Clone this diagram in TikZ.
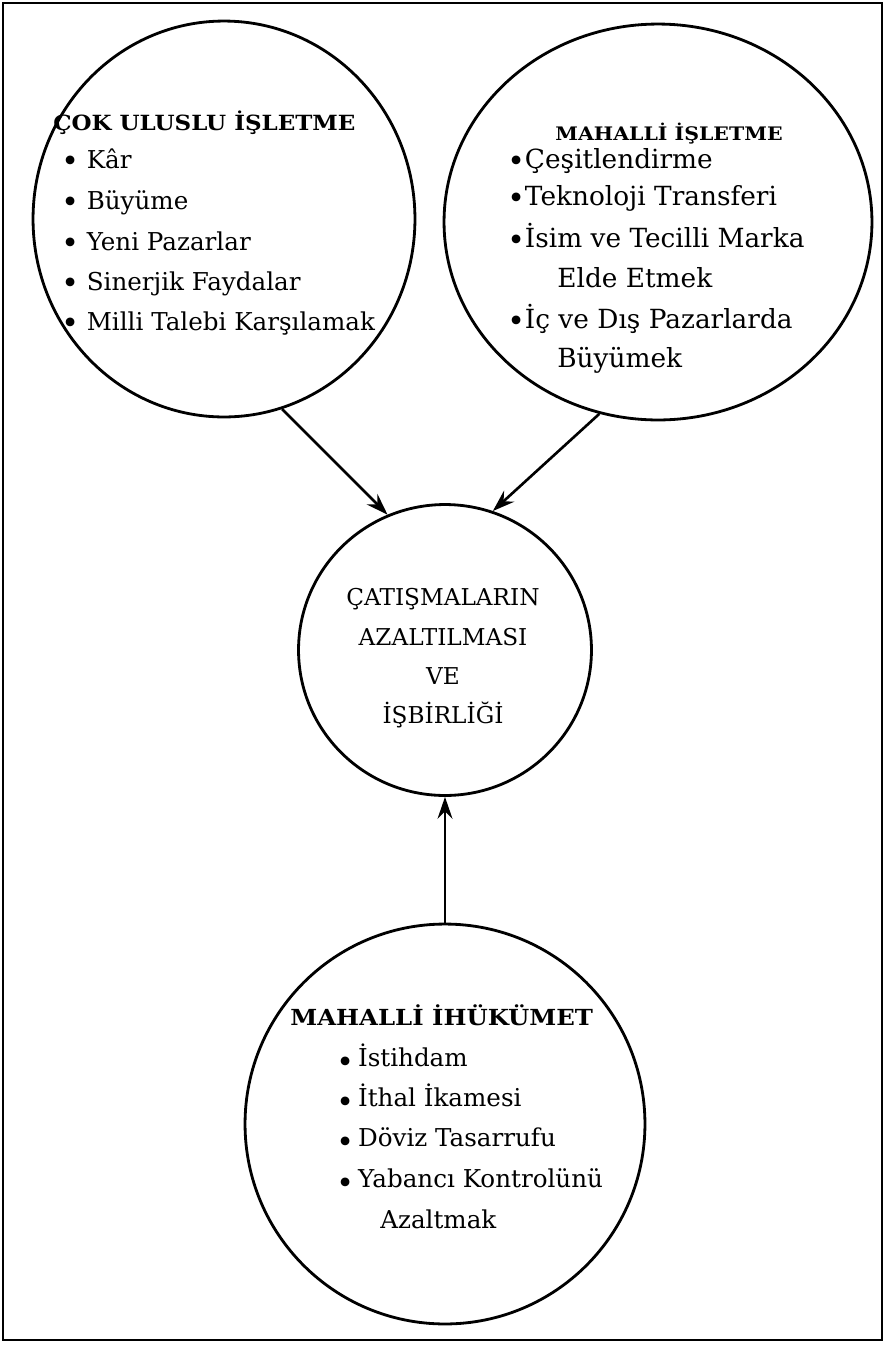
\documentclass[tikz,border=0pt]{standalone}
\usepackage{fontspec}
\setmainfont{DejaVu Serif}
\newfontfamily\headfamily{DejaVu Serif}[FakeStretch=1.1]
\usetikzlibrary{arrows.meta,shapes.geometric}
\newcommand{\bul}[1][-2pt]{\raisebox{#1}{\fontsize{17}{15}\selectfont •}}
\tikzset{
  ring/.style={ellipse, draw, line width=1.6pt, inner sep=0pt},
  headtxt/.style={anchor=base west, inner sep=0pt, font=\headfamily\bfseries\fontsize{#1}{#1}\selectfont},
  itemtxt/.style={anchor=base west, inner sep=0pt, font=\fontsize{#1}{15}\selectfont},
  itemtxt/.default=14,
  hubtxt/.style={anchor=base, inner sep=0pt, font=\fontsize{13.2}{15}\selectfont},
  linkarrow/.style={-{Stealth[length=4.4mm,width=3mm,inset=1.5mm]}, line width=1.5pt},
  frameln/.style={line width=1.2pt},
}

\begin{document}
\begin{tikzpicture}[x=0.02cm,y=-0.02cm]
  \useasboundingbox (0,0) rectangle (885,1347);
  \draw[frameln] (3,3) rectangle (882,1340);
  % the four circles
  \node[ring, minimum width=7.64cm, minimum height=7.92cm] (mne) at (224,219) {};
  \node[ring, minimum width=8.56cm, minimum height=7.92cm] (local) at (658,222) {};
  \node[ring, minimum width=5.86cm, minimum height=5.82cm] (coop) at (445,650) {};
  \node[ring, minimum width=8cm, minimum height=8cm] (govt) at (445,1124) {};
  % multinational firm
  \node[headtxt=11.9] (mneh) at (53,130) {ÇOK ULUSLU İŞLETME};
  \foreach \yy/\txt [count=\i] in {168/Kâr, 209/Büyüme, 250/Yeni Pazarlar,
      290/Sinerjik Faydalar, 330/Milli Talebi Karşılamak}
    \node[itemtxt] (mne\i) at (61,\yy) {\bul{} \txt};
  % local firm
  \node[headtxt=10.6] (loch) at (555,140) {MAHALLİ İŞLETME};
  \foreach \yy/\txt [count=\i] in {168/Çeşitlendirme, 205/Teknoloji Transferi,
      247/İsim ve Tecilli Marka, 328/İç ve Dış Pazarlarda}
    \node[itemtxt=15] (loc\i) at (507,\yy) {\bul\txt};
  \node[itemtxt=15] (loc3b) at (557,287) {Elde Etmek};
  \node[itemtxt=15] (loc4b) at (557,367) {Büyümek};
  % conflict reduction
  \foreach \yy/\txt [count=\i] in {605/ÇATIŞMALARIN, 645/AZALTILMASI, 684/VE, 723/İŞBİRLİĞİ}
    \node[hubtxt] (coop\i) at (443,\yy) {\txt};
  % local government
  \node[headtxt=12.6] (govh) at (290,1025) {MAHALLİ İHÜKÜMET};
  \foreach \yy/\txt [count=\i] in {1066/İstihdam, 1106/İthal İkamesi, 1146/Döviz Tasarrufu,
      1187/Yabancı Kontrolünü}
    \node[itemtxt] (gov\i) at (336,\yy) {\bul[-3.5pt]\,\txt};
  \node[itemtxt] (gov4b) at (380,1228) {Azaltmak};
  % connectors
  \draw[linkarrow] (mne.-73.5) -- (coop.113.6);
  \draw[linkarrow] (local.-107.9) -- (coop.71);
  \draw[linkarrow] (govt.north) -- (coop.south);
\end{tikzpicture}
\end{document}
